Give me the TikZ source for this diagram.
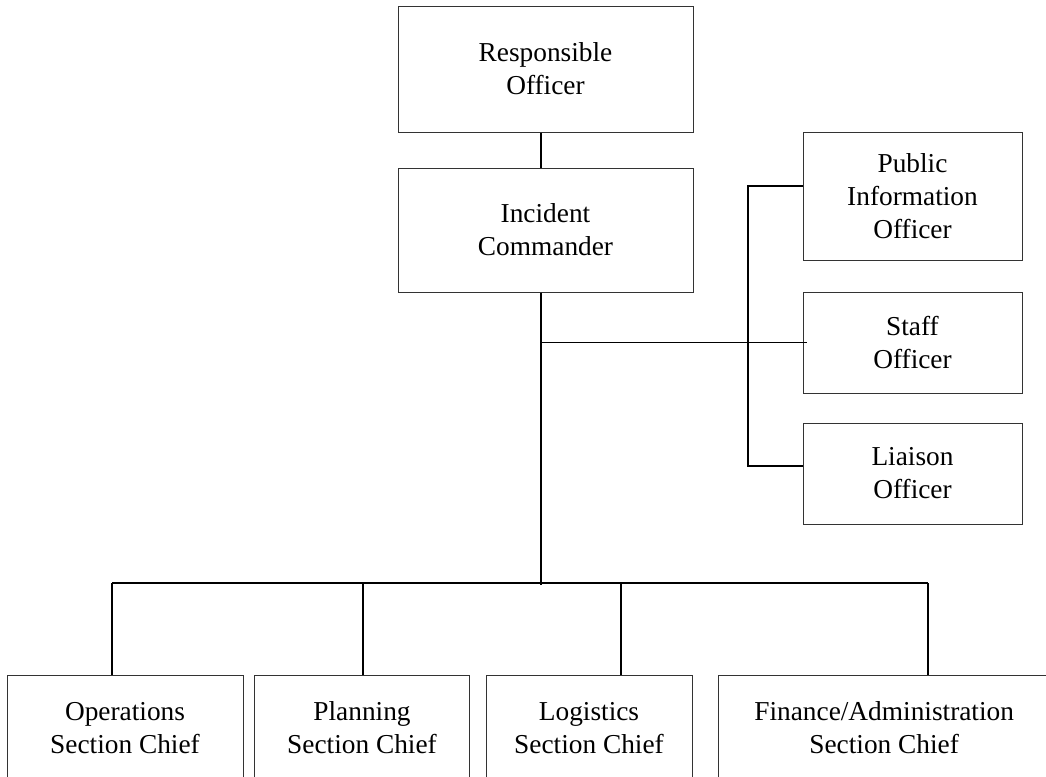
\documentclass[tikz,border=0pt]{standalone}
\usepackage{fontspec}
\setmainfont{Liberation Serif}
\usetikzlibrary{positioning,calc}

\begin{document}
\begin{tikzpicture}[x=0.75pt, y=-0.75pt,
    font=\fontsize{20.5}{24.75}\selectfont,
    orgbox/.style={draw=black!80, line width=0.75pt, align=center, inner sep=0pt},
    link/.style={draw=black, line width=1.1pt}]
  %% page frame (pixel grid, y downwards)
  \useasboundingbox (0,0) rectangle (1046,776);
  \clip (0,0) rectangle (1046,776);
  %% Command chain
  \node[orgbox, minimum width=221.25pt, minimum height=94.5pt] (RO) at (545.5,69) {Responsible\\Officer};
  \node[orgbox, minimum width=221.25pt, minimum height=93pt] (IC) at (545.5,230) {Incident\\Commander};
  %% Command staff
  \node[orgbox, minimum width=164.25pt, minimum height=96pt] (PIO) at (912.5,196) {Public\\Information\\Officer};
  \node[orgbox, minimum width=164.25pt, minimum height=75.75pt] (Staff) at (912.5,342.5) {Staff\\Officer};
  \node[orgbox, minimum width=164.25pt, minimum height=75.75pt] (Liaison) at (912.5,473.5) {Liaison\\Officer};
  %% General staff (boxes run off the page)
  \node[orgbox, minimum width=177pt, minimum height=79.5pt] (Ops) at (125,728) {Operations\\Section Chief};
  \node[orgbox, minimum width=161.25pt, minimum height=79.5pt] (Plan) at (362,728) {Planning\\Section Chief};
  \node[orgbox, minimum width=154.5pt, minimum height=79.5pt] (Log) at (589,728) {Logistics\\Section Chief};
  \node[orgbox, minimum width=280pt, minimum height=79.5pt] (Fin) at (905.5,728)
    {Finance/Administration\hspace*{32pt}\\Section Chief\hspace*{32pt}};
  %% Junction points
  \coordinate (bus) at (541,583);
  \coordinate (sidebus) at (748,0);
  %% Trunk
  \draw[link] (RO.south -| bus) -- (IC.north -| bus);
  \draw[link] (IC.south -| bus) -- ([yshift=-1.5pt]bus);
  \draw[link] (IC.south -| bus) |- ([xshift=3pt]Staff.west);
  %% Side bus to PIO and Liaison
  \draw[link] ([yshift=7.5pt]PIO.west) -- ([yshift=7.5pt]PIO.west -| sidebus)
    -- ([yshift=5.6pt]Liaison.west -| sidebus) -- ([yshift=5.6pt]Liaison.west);
  %% Bottom bus and drops
  \draw[link] ([xshift=-9.75pt]Ops.north |- bus) -- ([xshift=16.875pt]Fin.north |- bus);
  \foreach \sec/\dx in {Ops/-9.75pt, Plan/0.75pt, Log/24pt, Fin/16.875pt}{
    \draw[link] ([xshift=\dx]\sec.north |- bus) -- ([xshift=\dx]\sec.north);
  }
\end{tikzpicture}
\end{document}
